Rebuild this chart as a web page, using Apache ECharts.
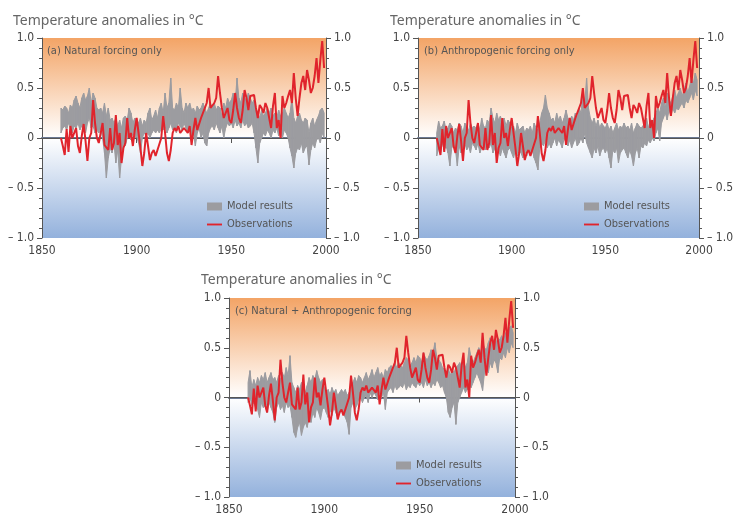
<!DOCTYPE html>
<html><head><meta charset="utf-8">
<script src="https://cdn.jsdelivr.net/npm/echarts@6/dist/echarts.min.js"></script>
<style>html,body{margin:0;padding:0;background:#fff}#c{width:736px;height:516px}</style>
</head><body><div id="c"></div>
<script>
const firstYear = 1860;
const observations = [
 0.00,-0.08,-0.17,0.09,-0.14,0.12,0.00,-0.02,0.10,-0.08,
 -0.15,0.02,0.14,-0.03,-0.23,0.00,0.05,0.38,0.15,0.00,
 -0.05,0.05,0.15,-0.07,-0.08,-0.12,0.10,-0.12,-0.05,0.23,
 -0.07,0.05,-0.25,-0.10,-0.05,0.20,0.00,0.05,-0.08,0.08,
 0.20,0.05,-0.10,-0.28,-0.15,0.05,-0.08,-0.22,-0.15,-0.12,
 -0.18,-0.12,-0.10,0.00,0.22,0.05,-0.15,-0.23,-0.12,0.05,
 0.10,0.07,0.12,0.05,0.03,0.10,0.08,0.05,0.12,-0.07,
 0.08,0.20,0.08,0.10,0.20,0.18,0.30,0.35,0.50,0.30,
 0.28,0.35,0.40,0.62,0.45,0.30,0.20,0.22,0.30,0.18,
 0.15,0.28,0.45,0.30,0.20,0.15,0.28,0.48,0.40,0.28,
 0.42,0.40,0.43,0.30,0.20,0.33,0.30,0.25,0.35,0.30,
 0.20,0.10,0.32,0.45,0.10,0.18,0.00,0.42,0.30,0.35,
 0.42,0.48,0.35,0.65,0.40,0.22,0.40,0.55,0.62,0.48,
 0.68,0.58,0.45,0.50,0.62,0.80,0.55,0.78,0.97,0.70];

const natUpper = [
 .30,.28,.32,.30,.25,.33,.30,.38,.42,.35,
 .30,.40,.45,.38,.42,.50,.35,.45,.40,.30,
 .28,.30,.25,.35,.22,.30,.18,.20,.15,.20,
 .12,.18,.10,.20,.22,.18,.30,.25,.15,.20,
 .18,.15,.20,.12,.18,.15,.25,.30,.18,.22,
 .28,.20,.30,.35,.25,.45,.30,.35,.60,.30,
 .28,.35,.30,.50,.30,.25,.35,.30,.35,.28,
 .30,.25,.32,.28,.30,.35,.30,.25,.30,.35,
 .30,.35,.28,.32,.30,.22,.35,.30,.40,.35,
 .38,.45,.35,.60,.40,.35,.45,.40,.38,.45,
 .40,.35,.38,.30,.25,.20,.28,.22,.25,.30,
 .25,.30,.22,.25,.20,.28,.22,.25,.30,.25,
 .20,.25,.40,.20,.15,.22,.25,.18,.15,.20,
 .18,.05,.15,.20,.12,.18,.22,.28,.30,.25];
const natLower = [
 .05,.10,.12,.08,.15,.10,.05,.12,.10,.15,
 .08,.12,.10,.05,.15,.20,.10,.12,.05,.08,
 .05,.10,.00,-.15,-.40,-.20,-.10,-.15,-.05,-.25,
 -.12,-.40,-.20,-.05,-.08,.00,.05,-.02,.05,.00,
 .02,-.05,-.15,.00,.05,.02,.05,.00,.05,.08,
 .05,.08,.05,.10,.08,.12,.05,.10,.15,.08,
 .10,.05,.15,.12,.08,.15,.10,.05,.12,.00,
 .05,-.08,.05,.10,.00,.05,-.05,-.08,.05,.10,
 .12,.08,.15,.10,.05,.12,.00,.10,.15,.12,
 .15,.10,.18,.12,.15,.10,.18,.12,.15,.10,
 .12,.15,.05,-.10,-.25,-.05,.00,.05,.02,.08,
 .05,.00,.08,.05,.10,.02,.05,.00,.08,.05,
 .00,-.10,-.18,-.30,-.15,-.10,-.12,-.05,-.15,-.10,
 -.08,-.27,-.12,-.05,-.10,-.02,.00,-.05,.05,.00];

const antUpper = [
 .05,.17,.10,.12,.17,.08,.10,.15,.12,.05,
 .10,.08,.15,.12,.05,.15,.10,.08,.15,.10,
 .12,.10,.15,.08,.20,.12,.10,.18,.15,.30,
 .20,.15,.25,.18,.22,.15,.20,.12,.18,.15,
 .10,.12,.05,.15,.08,.10,.12,.05,.10,.08,
 .12,.05,.15,.10,.08,.15,.25,.30,.43,.30,
 .25,.18,.20,.15,.25,.18,.22,.15,.20,.28,
 .20,.15,.22,.18,.25,.20,.30,.25,.45,.35,
 .60,.30,.20,.15,.20,.12,.18,.10,.15,.12,
 .10,.15,.08,.12,.05,.10,.15,.08,.12,.10,
 .15,.10,.12,.08,.15,.05,.10,.15,.12,.10,
 .12,.15,.20,.10,.18,.15,.20,.25,.30,.25,
 .35,.40,.30,.45,.38,.35,.42,.48,.40,.45,
 .50,.42,.48,.55,.45,.52,.60,.55,.65,.58];
const antLower = [
 -.18,-.10,-.15,-.05,-.12,-.08,-.15,-.28,-.10,-.05,
 -.12,-.28,-.08,-.15,-.10,-.05,-.12,-.08,-.15,-.05,
 -.08,-.12,-.05,-.15,-.10,-.05,-.12,-.08,-.10,-.05,
 -.15,-.10,-.20,-.12,-.18,-.10,-.15,-.20,-.12,-.10,
 -.15,-.20,-.12,-.18,-.10,-.15,-.20,-.12,-.18,-.10,
 -.15,-.12,-.20,-.25,-.32,-.10,-.05,-.08,-.02,-.10,
 -.05,-.10,-.05,.00,-.08,-.02,-.05,-.10,.00,-.05,
 -.08,-.02,-.10,-.05,.00,-.08,-.05,.00,-.05,.05,
 -.05,-.10,-.15,-.20,-.10,-.15,-.08,-.18,-.12,-.10,
 -.15,-.10,-.20,-.30,-.12,-.15,-.10,-.25,-.15,-.12,
 -.10,-.15,-.20,-.12,-.18,-.28,-.15,-.10,-.20,-.08,
 -.10,-.05,-.08,-.02,-.05,.00,-.03,.05,.10,-.03,
 .15,.20,.25,.18,.28,.22,.30,.25,.30,.28,
 .32,.35,.30,.38,.35,.40,.45,.38,.48,.42];

const bothUpper = [
 .15,.27,.10,.18,.12,.20,.15,.22,.18,.25,
 .15,.20,.25,.18,.20,.15,.22,.18,.25,.20,
 .30,.22,.42,.15,.10,.05,.12,.08,.15,.10,
 .05,.12,.20,.15,.22,.18,.27,.20,.15,.18,
 .10,.05,.08,.03,.10,.05,.08,.02,.05,.08,
 .05,.08,.02,.05,.10,.15,.20,.15,.22,.20,
 .15,.20,.25,.18,.22,.28,.20,.25,.30,.22,
 .25,.20,.28,.25,.30,.32,.28,.35,.30,.35,
 .32,.30,.35,.40,.38,.32,.35,.40,.35,.42,
 .40,.35,.45,.40,.38,.42,.48,.45,.55,.40,
 .38,.35,.30,.28,.25,.30,.22,.28,.25,.30,
 .32,.35,.30,.38,.30,.35,.50,.40,.35,.40,
 .45,.50,.45,.55,.50,.48,.55,.60,.52,.58,
 .55,.60,.58,.62,.55,.65,.62,.70,.72,.65];
const bothLower = [
 -.05,.00,-.08,-.05,-.10,-.12,-.20,-.05,-.10,-.08,
 -.15,-.05,-.10,-.15,-.25,-.10,-.05,-.12,-.08,-.15,
 -.05,-.10,-.08,-.20,-.35,-.40,-.30,-.25,-.38,-.30,
 -.25,-.30,-.20,-.25,-.15,-.20,-.10,-.15,-.22,-.12,
 -.10,-.15,-.20,-.12,-.18,-.10,-.15,-.20,-.15,-.12,
 -.15,-.20,-.25,-.37,-.10,-.05,-.12,-.08,-.02,.00,
 -.05,.00,.02,-.05,.05,.00,.05,.02,-.02,.05,
 .00,.05,-.12,.05,.08,.10,.05,.12,.08,.10,
 .12,.10,.15,.08,.12,.10,.15,.12,.10,.15,
 .12,.15,.10,.18,.12,.15,.10,.15,.12,.18,
 .15,.10,.12,.05,.00,-.15,-.20,-.10,-.05,-.27,
 -.05,.00,.05,.10,.05,.08,.12,.10,.15,.20,
 .25,.20,.15,.07,.25,.30,.25,.35,.30,.38,
 .35,.25,.40,.38,.45,.40,.50,.45,.55,.50];

const xTickYears = [1850, 1900, 1950, 2000];
const yTickValues = [-1, -0.5, 0, 0.5, 1];
const yTickLabels = ['– 1.0', '– 0.5', '0', '0.5', '1.0'];
const axisTitle = 'Temperature anomalies in °C';
const panelLabels = ['(a) Natural forcing only', '(b) Anthropogenic forcing only', '(c) Natural + Anthropogenic forcing'];
const legendNames = ['Model results', 'Observations'];

const panels = [
  {lower: natLower, upper: natUpper, grid: {left: 42, top: 38, width: 284, height: 200}, title: [13, 14], label: [47, 46], legend: [207, 200]},
  {lower: antLower, upper: antUpper, grid: {left: 418, top: 38, width: 285, height: 200}, title: [390, 14], label: [424, 46], legend: [584, 200]},
  {lower: bothLower, upper: bothUpper, grid: {left: 229, top: 298, width: 286, height: 200}, title: [201, 273], label: [235, 306], legend: [396, 459]}
];

const pairs = arr => arr.map((v, i) => [firstYear + i, v]);
const bandRows = (lo, up) => lo.slice(0, -1).map((v, i) => [firstYear + i, v, up[i], firstYear + i + 1, lo[i + 1], up[i + 1]]);
const yFmt = v => { const k = yTickValues.findIndex(t => Math.abs(t - v) < 1e-6); return k >= 0 ? yTickLabels[k] : ''; };

const narrow = "'DejaVu Sans Condensed', 'Liberation Sans Narrow', Roboto, sans-serif";
const grey = '#9c9ca0';
const red = '#e0242c';

function renderBand(params, api) {
  const a = api.coord([api.value(0), api.value(1)]);
  const b = api.coord([api.value(0), api.value(2)]);
  const c = api.coord([api.value(3), api.value(5)]);
  const d = api.coord([api.value(3), api.value(4)]);
  return {
    type: 'polygon',
    shape: {points: [a, b, c, d]},
    style: {fill: grey, stroke: grey, lineWidth: 1}
  };
}

const option = {
  animation: false,
  backgroundColor: '#ffffff',
  title: [], grid: [], xAxis: [], yAxis: [], legend: [], series: []
};

panels.forEach((p, i) => {
  option.title.push({text: axisTitle, left: p.title[0], top: p.title[1], padding: 0, textStyle: {fontFamily: 'Noto Sans', fontSize: 14, fontWeight: 'normal', color: '#666'}});
  option.title.push({text: panelLabels[i], left: p.label[0], top: p.label[1], padding: 0, textStyle: {fontFamily: narrow, fontSize: 11, fontWeight: 'normal', color: '#555'}});
  option.grid.push(Object.assign({
    show: true, borderWidth: 0,
    backgroundColor: new echarts.graphic.LinearGradient(0, 0, 0, 1, [
      {offset: 0, color: '#f3a466'}, {offset: 0.5, color: '#ffffff'}, {offset: 1, color: '#93b1dc'}])
  }, p.grid));
  option.xAxis.push({
    type: 'value', gridIndex: i, min: xTickYears[0], max: xTickYears[xTickYears.length - 1], interval: 50,
    axisLine: {lineStyle: {color: '#6b7891', width: 2}},
    axisTick: {length: 5, lineStyle: {color: '#555'}},
    axisLabel: {fontFamily: narrow, fontSize: 12, color: '#444', margin: 7, formatter: v => String(v)},
    splitLine: {show: false}
  });
  ['left', 'right'].forEach(pos => {
    option.yAxis.push({
      type: 'value', gridIndex: i, position: pos, min: -1, max: 1, interval: 0.5,
      axisLine: {show: true, lineStyle: {color: '#555', width: 1}},
      axisTick: {show: true, length: 5, lineStyle: {color: '#555'}},
      minorTick: {show: true, splitNumber: 5, length: 3, lineStyle: {color: '#555'}},
      axisLabel: {fontFamily: narrow, fontSize: 12, color: '#444', margin: 8, formatter: yFmt},
      splitLine: {show: false}
    });
  });
  option.legend.push({
    left: p.legend[0], top: p.legend[1], orient: 'vertical', itemWidth: 15, itemHeight: 8, itemGap: 5,
    padding: 0, selectedMode: false,
    textStyle: {fontFamily: narrow, fontSize: 11, color: '#555', lineHeight: 13},
    data: [{name: legendNames[0], icon: 'rect', itemStyle: {color: grey}},
           {name: legendNames[1], icon: 'path://M0,0H16V2H0Z', itemStyle: {color: red}}]
  });
  option.series.push({
    type: 'custom', name: legendNames[0], xAxisIndex: i, yAxisIndex: 2 * i,
    data: bandRows(p.lower, p.upper), renderItem: renderBand, color: grey, silent: true,
    encode: {x: [0, 3], y: [1, 2, 4, 5]}
  });
  option.series.push({
    type: 'line', name: legendNames[1], xAxisIndex: i, yAxisIndex: 2 * i,
    data: pairs(observations), symbol: 'none', color: red, lineStyle: {color: red, width: 2}, silent: true,
    markLine: {silent: true, symbol: 'none', label: {show: false}, z: 1, lineStyle: {color: '#555', width: 1, type: 'solid'}, data: [{yAxis: 0}]}
  });
});

const chart = echarts.init(document.getElementById('c'), null, {renderer: 'canvas'});
chart.setOption(option);
</script></body></html>
